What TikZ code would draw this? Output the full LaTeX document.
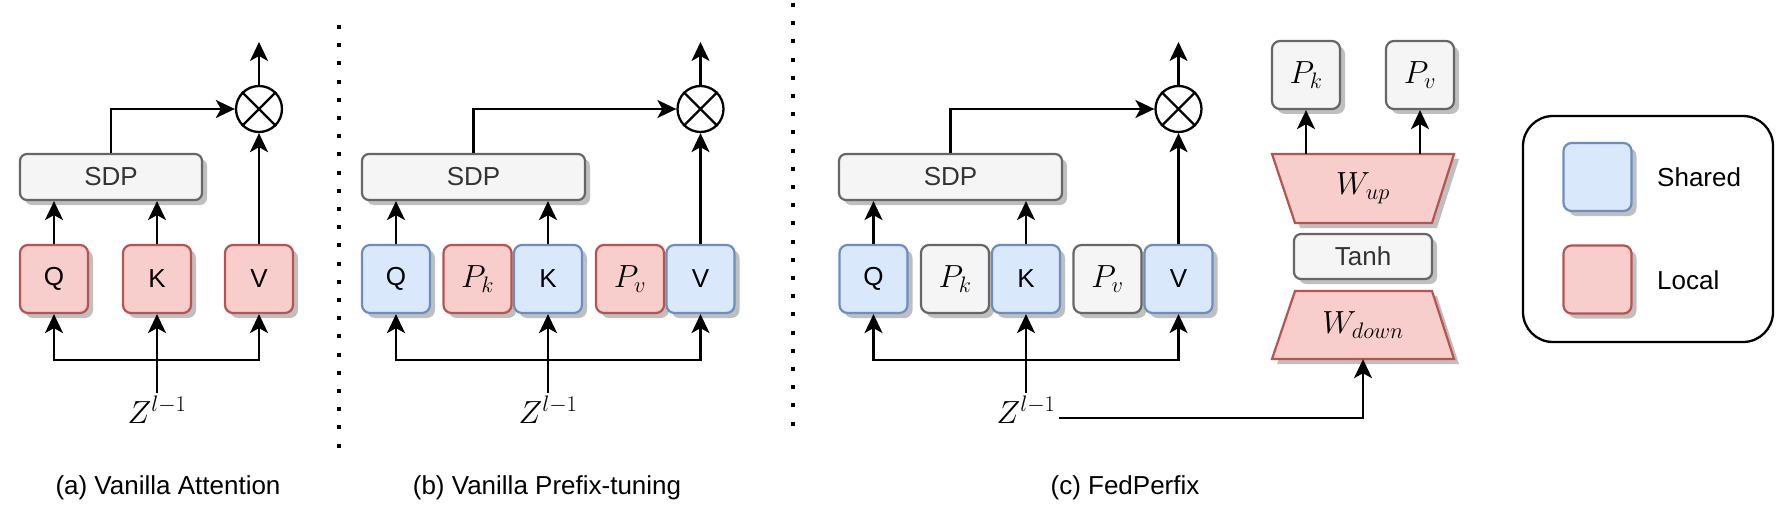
\RequirePackage{fix-cm}
\documentclass[tikz,border=0pt]{standalone}
\usepackage[no-math]{fontspec}
\setmainfont{Liberation Sans}
\usetikzlibrary{arrows.meta,shadows,calc}
\definecolor{bfill}{HTML}{DAE8FC}
\definecolor{bdraw}{HTML}{6C8EBF}
\definecolor{rfill}{HTML}{F8CECC}
\definecolor{rdraw}{HTML}{B85450}
\definecolor{gfill}{HTML}{F5F5F5}
\definecolor{gdraw}{HTML}{666666}
\definecolor{gtext}{HTML}{333333}
\begin{document}
\begin{tikzpicture}[x=1pt,y=-1pt,
  arr/.style={draw=black,line width=2.3pt,-{Stealth[length=19pt,width=18pt,inset=5pt]}},
  sh/.style={drop shadow={shadow xshift=5pt,shadow yshift=-5pt,fill=black,opacity=0.25}},
  txt/.style={font=\fontsize{26}{30}\selectfont},
  mth/.style={font=\fontsize{32}{36}\selectfont},
  boxbase/.style={rounded corners=8pt,line width=2.2pt,minimum width=68pt,minimum height=68pt,inner sep=0pt,sh},
  sharedst/.style={boxbase,fill=bfill,draw=bdraw,txt},
  localst/.style={boxbase,fill=rfill,draw=rdraw,txt},
  neutralst/.style={boxbase,fill=gfill,draw=gdraw,mth},
  sdpst/.style={boxbase,fill=gfill,draw=gdraw,txt,text=gtext,rounded corners=7pt,minimum width=182pt,minimum height=46pt},
  mult/.style={circle,draw=black,fill=white,line width=2.3pt,minimum size=46pt,inner sep=0pt},
  caption/.style={txt,inner sep=0pt},
  dots/.style={line width=4pt,dash pattern=on 4pt off 14.2pt}
]
\useasboundingbox (0,0) rectangle (1791,516);
\fill[white] (0,0) rectangle (1791,516);

% separators
\draw[dots] (339,25) -- (339,452);
\draw[dots] (793,3) -- (793,428);

% ---------------- panel (a)
\node[localst] (Qa) at (54,279) {Q};
\node[localst] (Ka) at (157,279) {K};
\node[localst] (Va) at (259,279) {V};
\node[sdpst] (Sa) at (111,177) {SDP};
\node[mult] (Ma) at (259,109) {};
\draw[line width=2.3pt] (Ma.north east) -- (Ma.south west) (Ma.north west) -- (Ma.south east);
\coordinate (Oa) at (259,42);
\node[mth] (Za) at (157,410) {$Z^{l-1}$};
\coordinate (ja) at (157,360);
\draw[arr] (Za.north) -- (Ka.south);
\draw[arr] (ja) -| (Qa.south);
\draw[arr] (ja) -| (Va.south);
\draw[arr] (Qa.north) -- (Qa.north |- Sa.south);
\draw[arr] (Ka.north) -- (Ka.north |- Sa.south);
\draw[arr] (Sa.north) |- (Ma.west);
\draw[arr] (Va.north) -- (Ma.south);
\draw[arr] (Ma.north) -- (Oa);

% ---------------- panel (b)
\node[sharedst] (Qb) at (396,279) {Q};
\node[localst,mth] (Pkb) at (477.5,279) {$P_k$};
\node[sharedst] (Kb) at (548,279) {K};
\node[localst,mth] (Pvb) at (630,279) {$P_v$};
\node[sharedst] (Vb) at (700.5,279) {V};
\node[sdpst,minimum width=223pt] (Sb) at (473.5,177) {SDP};
\node[mult] (Mb) at (700.5,109) {};
\draw[line width=2.3pt] (Mb.north east) -- (Mb.south west) (Mb.north west) -- (Mb.south east);
\coordinate (Ob) at (700.5,42);
\node[mth] (Zb) at (548,410) {$Z^{l-1}$};
\coordinate (jb) at (548,360);
\draw[arr] (Zb.north) -- (Kb.south);
\draw[arr] (jb) -| (Qb.south);
\draw[arr] (jb) -| (Vb.south);
\draw[arr] (Qb.north) -- (Qb.north |- Sb.south);
\draw[arr] (Kb.north) -- (Kb.north |- Sb.south);
\draw[arr] (Sb.north) |- (Mb.west);
\draw[arr] (Vb.north) -- (Mb.south);
\draw[arr] (Mb.north) -- (Ob);

% ---------------- panel (c)
\node[sharedst] (Qc) at (873.5,279) {Q};
\node[neutralst] (Pkc) at (955,279) {$P_k$};
\node[sharedst] (Kc) at (1026,279) {K};
\node[neutralst] (Pvc) at (1107.5,279) {$P_v$};
\node[sharedst] (Vc) at (1178.5,279) {V};
\node[sdpst,minimum width=223pt] (Sc) at (950.5,177) {SDP};
\node[mult] (Mc) at (1178.5,109) {};
\draw[line width=2.3pt] (Mc.north east) -- (Mc.south west) (Mc.north west) -- (Mc.south east);
\coordinate (Oc) at (1178.5,42);
\node[mth] (Zc) at (1026,410) {$Z^{l-1}$};
\coordinate (jc) at (1026,360);
\draw[arr] (Zc.north) -- (Kc.south);
\draw[arr] (jc) -| (Qc.south);
\draw[arr] (jc) -| (Vc.south);
\draw[arr] (Qc.north) -- (Qc.north |- Sc.south);
\draw[arr] (Kc.north) -- (Kc.north |- Sc.south);
\draw[arr] (Sc.north) |- (Mc.west);
\draw[arr] (Vc.north) -- (Mc.south);
\draw[arr] (Mc.north) -- (Oc);

% prefix generator
\node[neutralst] (Pkt) at (1306,75) {$P_k$};
\node[neutralst] (Pvt) at (1420,75) {$P_v$};
% W_up (inverted trapezoid)
\fill[black,opacity=0.25,xshift=5pt,yshift=-5pt] (1272,154) -- (1454,154) -- (1432,223) -- (1295,223) -- cycle;
\draw[fill=rfill,draw=rdraw,line width=2.2pt] (1272,154) -- (1454,154) -- (1432,223) -- (1295,223) -- cycle;
\node[mth,minimum width=182pt,minimum height=69pt,inner sep=0pt] (Wu) at (1363,188.5) {$W_{up}$};
% Tanh
\node[sdpst,minimum width=138pt,minimum height=45pt] (Th) at (1363,256.5) {Tanh};
% W_down (trapezoid)
\fill[black,opacity=0.25,xshift=5pt,yshift=-5pt] (1295,291) -- (1432,291) -- (1454,359) -- (1272,359) -- cycle;
\draw[fill=rfill,draw=rdraw,line width=2.2pt] (1295,291) -- (1432,291) -- (1454,359) -- (1272,359) -- cycle;
\node[mth,minimum width=182pt,minimum height=68pt,inner sep=0pt] (Wd) at (1363,325) {$W_{down}$};
\draw[arr] (Pkt.south |- Wu.north) -- (Pkt.south);
\draw[arr] (Pvt.south |- Wu.north) -- (Pvt.south);
\draw[arr] ([yshift=-8pt]Zc.east) -| (Wd.south);

% legend
\node[draw=black,line width=2.3pt,rounded corners=30pt,minimum width=250pt,minimum height=226pt] (Lg) at (1648,229) {};
\node[sharedst] (Ls) at (1597.5,177) {};
\node[localst] (Ll) at (1597.5,279.5) {};
\node[txt,anchor=west,inner sep=0pt] (Lst) at (1657,177) {Shared};
\node[txt,anchor=west,inner sep=0pt] (Llt) at (1657,280) {Local};

% captions
\node[caption] (Ca) at (168,488) {(a) Vanilla Attention};
\node[caption] (Cb) at (547,488) {(b) Vanilla Prefix-tuning};
\node[caption] (Cc) at (1125,488) {(c) FedPerfix};
\end{tikzpicture}
\end{document}
